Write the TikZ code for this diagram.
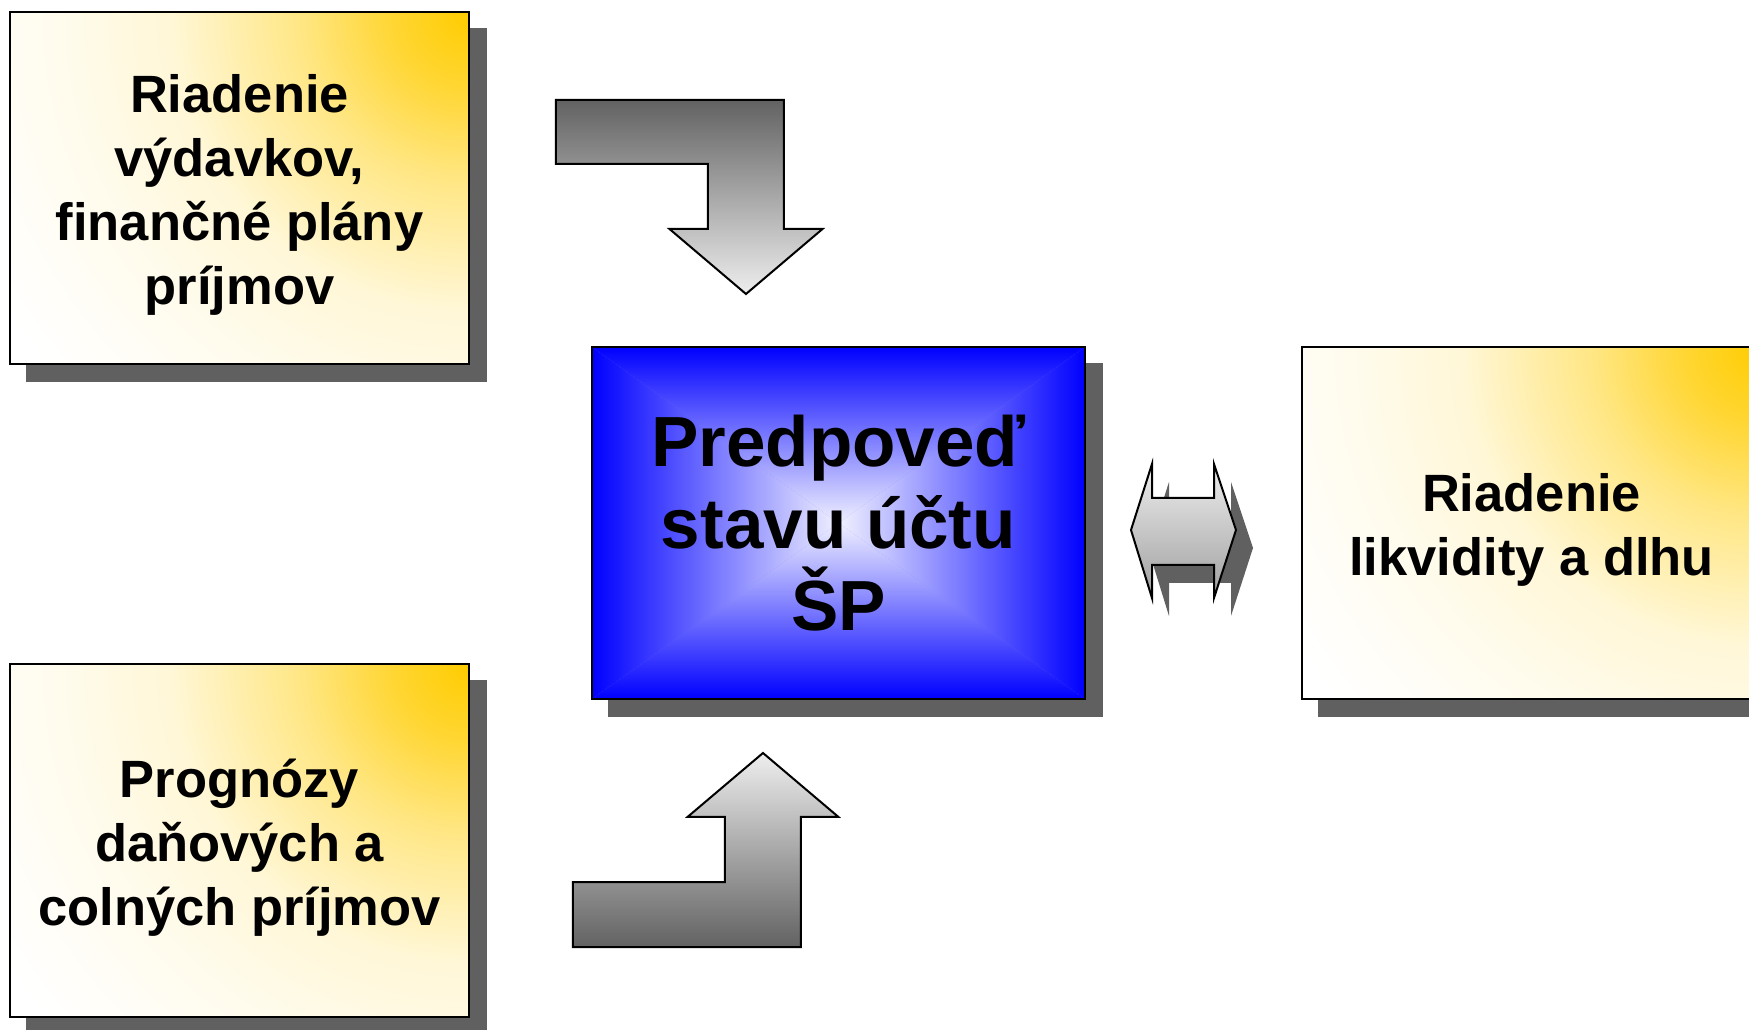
\documentclass[tikz,border=0pt]{standalone}
\usepackage{fontspec}
\setmainfont{Liberation Sans}
\usetikzlibrary{backgrounds,positioning,calc}
\definecolor{shadowgray}{RGB}{96,96,96}
\definecolor{cornergold}{RGB}{255,204,0}
\definecolor{paleblue}{RGB}{240,240,255}
\definecolor{darkarrow}{RGB}{98,98,98}
\definecolor{lightarrow}{RGB}{238,238,238}
\pgfdeclareradialshading{goldfade}{\pgfpoint{0bp}{0bp}}{color(0bp)=(cornergold); color(3.2bp)=(cornergold!80!white); color(7.2bp)=(cornergold!47!white); color(12.4bp)=(cornergold!16!white); color(17bp)=(cornergold!7!white); color(23bp)=(white); color(50bp)=(white)}
\newcommand{\sidefont}{\fontsize{52.5}{64}\selectfont\bfseries}
\newcommand{\midfont}{\fontsize{71}{82}\selectfont\bfseries}
\newcommand{\lift}{\rule{0pt}{52pt}}
% four triangles, shaded from the edges to the centre
\newcommand{\bluequarters}{%
  \path (path picture bounding box.north west) coordinate (bnw)
        (path picture bounding box.north east) coordinate (bne)
        (path picture bounding box.south west) coordinate (bsw)
        (path picture bounding box.south east) coordinate (bse)
        (path picture bounding box.center) coordinate (bc);
  \begin{scope}\clip (bnw) -- (bne) -- (bc) -- cycle;
    \shade[top color=blue, bottom color=paleblue] (bnw) rectangle (bc -| bne);\end{scope}
  \begin{scope}\clip (bsw) -- (bse) -- (bc) -- cycle;
    \shade[top color=paleblue, bottom color=blue] (bsw) rectangle (bc -| bse);\end{scope}
  \begin{scope}\clip (bnw) -- (bsw) -- (bc) -- cycle;
    \shade[left color=blue, right color=paleblue] (bnw) rectangle (bc |- bsw);\end{scope}
  \begin{scope}\clip (bne) -- (bse) -- (bc) -- cycle;
    \shade[left color=paleblue, right color=blue] (bc |- bne) rectangle (bse);\end{scope}}

\begin{document}
\begin{tikzpicture}[x=1pt, y=1pt, on grid,
  box/.style={draw, line width=2pt, fill=white, inner sep=0pt, minimum width=459pt, minimum height=352pt, align=center, font=\sidefont},
  goldbox/.style={box, path picture={\shade[shading=goldfade] (path picture bounding box.north east) circle (600pt);}},
  bluebox/.style={box, fill=blue!55!white, minimum width=493pt, font=\midfont, path picture={\bluequarters}},
  bent/.style={draw, line width=2pt, line join=miter},
  dropgray/.style={fill=shadowgray}]
  \useasboundingbox (-838.5,-507) rectangle (910.5,523);

  % Boxes
  \node[bluebox] (predpoved) {Predpoveď\\stavu účtu\\ŠP};
  \node[goldbox] (vydavky) [above left=335pt and 599pt of predpoved] {\lift Riadenie\\výdavkov,\\finančné plány\\príjmov};
  \node[goldbox, minimum height=353pt] (prognozy) [below left=317.5pt and 599pt of predpoved] {\lift Prognózy\\daňových a\\colných príjmov};
  \node[goldbox] (likvidita) [right=693pt of predpoved] {\lift Riadenie\\likvidity a dlhu};

  % Shadows
  \begin{scope}[on background layer]
    \foreach \b in {predpoved,vydavky,prognozy,likvidita}
      \fill[dropgray] ($(\b.south west)+(17,-17)$) rectangle ($(\b.north east)+(17,-17)$);
  \end{scope}

  % Arrows
  \coordinate[above left=229pt and 92.5pt of predpoved] (tipdown);
  \coordinate[below left=230pt and 75.5pt of predpoved] (tipup);
  \coordinate[below right=7pt and 292.5pt of predpoved] (tipboth);
  \draw[bent, top color=darkarrow, bottom color=lightarrow] (tipdown)
    -- ++(76.5,65) -- ++(-38.5,0) -- ++(0,129) -- ++(-228,0) -- ++(0,-64)
    -- ++(152,0) -- ++(0,-65) -- ++(-38.5,0) -- cycle;
  \draw[bent, top color=lightarrow, bottom color=darkarrow] (tipup)
    -- ++(75.5,-64) -- ++(-37.5,0) -- ++(0,-130) -- ++(-228,0) -- ++(0,65)
    -- ++(152,0) -- ++(0,65) -- ++(-37.5,0) -- cycle;
  \fill[dropgray] ($(tipboth)+(17,-18)$)
    -- ++(21,66) -- ++(0,-34) -- ++(62,0) -- ++(0,34) -- ++(22,-66)
    -- ++(-22,-68) -- ++(0,33) -- ++(-62,0) -- ++(0,-33) -- cycle;
  \draw[bent, top color=lightarrow!102!white, bottom color=gray!75!white] (tipboth)
    -- ++(21,66) -- ++(0,-34) -- ++(62,0) -- ++(0,34) -- ++(22,-66)
    -- ++(-22,-68) -- ++(0,33) -- ++(-62,0) -- ++(0,-33) -- cycle;
\end{tikzpicture}
\end{document}
